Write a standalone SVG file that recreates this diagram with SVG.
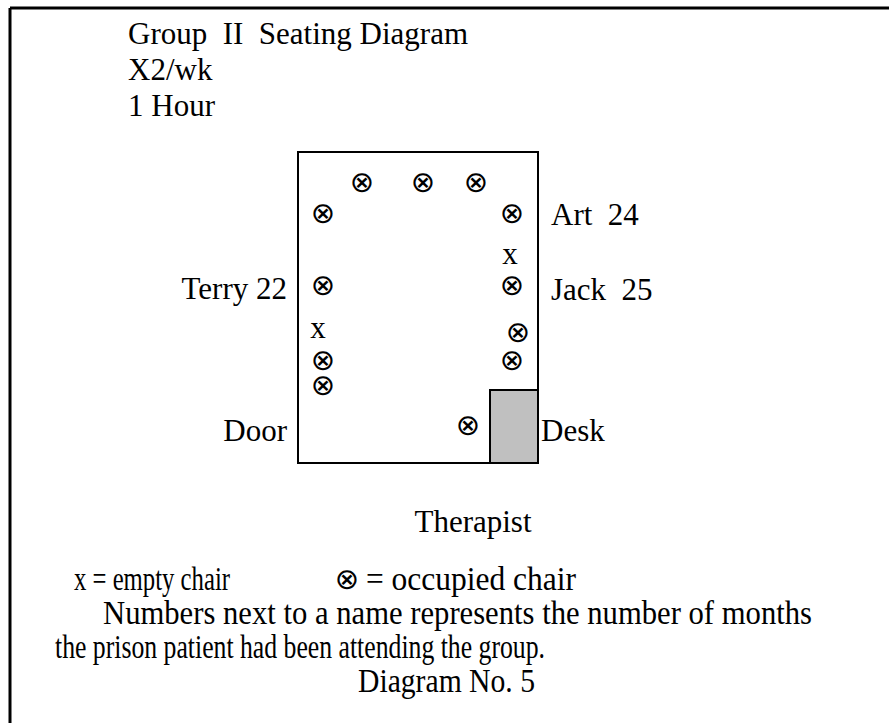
<svg xmlns="http://www.w3.org/2000/svg" width="889" height="723" viewBox="0 0 889 723">
<style>
text{font-family:"Liberation Serif","Times New Roman",serif;font-size:31px;fill:#000}
.lg{font-size:33px}
.c{font-family:"DejaVu Sans",sans-serif;font-size:29px;text-anchor:middle}
.e{text-anchor:middle}
.r{text-anchor:end}
</style>
<rect width="889" height="723" fill="#fff"/>
<g id="frame" stroke="#000" stroke-width="3" fill="none">
<line x1="10" y1="8" x2="889" y2="8"/>
<line x1="10" y1="8" x2="10" y2="723"/>
</g>
<g id="header">
<text x="128" y="44" xml:space="preserve">Group  II  Seating Diagram</text>
<text x="128" y="80">X2/wk</text>
<text x="128" y="116">1 Hour</text>
</g>
<g id="room">
<rect x="298" y="152" width="240" height="311" fill="none" stroke="#000" stroke-width="2"/>
</g>
<g id="desk">
<rect x="490" y="390" width="48" height="73" fill="#c0c0c0" stroke="#000" stroke-width="2"/>
</g>
<g id="chairs">
<text class="c" x="362" y="192">⊗</text>
<text class="c" x="423" y="192">⊗</text>
<text class="c" x="476" y="192">⊗</text>
<text class="c" x="323" y="223">⊗</text>
<text class="c" x="512" y="223">⊗</text>
<text class="e" x="510" y="264" font-size="29">x</text>
<text class="c" x="323" y="295">⊗</text>
<text class="c" x="512" y="295">⊗</text>
<text class="e" x="318" y="338" font-size="29">x</text>
<text class="c" x="518" y="342">⊗</text>
<text class="c" x="323" y="370">⊗</text>
<text class="c" x="512" y="370">⊗</text>
<text class="c" x="323" y="395">⊗</text>
<text class="c" x="468" y="435">⊗</text>
</g>
<g id="labels">
<text x="551" y="225" xml:space="preserve">Art  24</text>
<text x="551" y="300" xml:space="preserve">Jack  25</text>
<text class="r" x="287" y="299">Terry 22</text>
<text class="r" x="287" y="441">Door</text>
<text x="541" y="441">Desk</text>
<text class="e" x="473" y="532">Therapist</text>
</g>
<g id="legend">
<text class="lg" x="74" y="590" textLength="156" lengthAdjust="spacingAndGlyphs">x = empty chair</text>
<text class="c" x="347" y="589">⊗</text>
<text class="lg" x="366" y="590" textLength="210" lengthAdjust="spacingAndGlyphs">= occupied chair</text>
<text class="lg" x="103" y="624" textLength="709" lengthAdjust="spacingAndGlyphs">Numbers next to a name represents the number of months</text>
<text class="lg" x="55" y="658" textLength="490" lengthAdjust="spacingAndGlyphs">the prison patient had been attending the group.</text>
<text class="lg" x="358" y="692" textLength="177" lengthAdjust="spacingAndGlyphs">Diagram No. 5</text>
</g>
</svg>
